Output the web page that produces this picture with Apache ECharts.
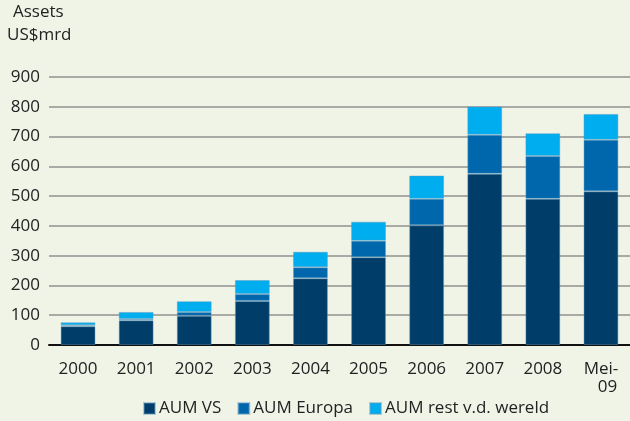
<!DOCTYPE html>
<html><head><meta charset="utf-8">
<script src="https://cdn.jsdelivr.net/npm/echarts@6/dist/echarts.min.js"></script>
<style>html,body{margin:0;padding:0;background:#eff4e7;}#c{width:630px;height:421px;}</style>
</head><body><div id="c"></div>
<script>
const categories = ['2000','2001','2002','2003','2004','2005','2006','2007','2008','Mei-\n   09'];
const aumVS = [63, 83, 98, 148, 224, 295, 402, 575, 491, 516];
const aumEuropa = [3, 4, 13, 23, 37, 55, 89, 131, 144, 173];
const aumRest = [10, 24, 36, 47, 52, 64, 78, 95, 76, 87];
const yTicks = [0, 900, 100];
const seriesNames = ['AUM VS', 'AUM Europa', 'AUM rest v.d. wereld'];
const colors = ['#003d68', '#0067ad', '#00aeef'];
const font = 'Open Sans';
const chart = echarts.init(document.getElementById('c'));
const mk = (name, data, color) => ({
  name, type: 'bar', stack: 'a', data, barWidth: '60%',
  itemStyle: { color, borderColor: 'rgba(90,150,190,0.45)', borderWidth: 1 }
});
chart.setOption({
  backgroundColor: '#eff4e7',
  animation: false,
  textStyle: { fontFamily: font },
  graphic: [
    { type: 'text', left: 13, top: 4, style: { text: 'Assets', font: '17px "Open Sans"', fill: '#222' } },
    { type: 'text', left: 7, top: 27, style: { text: 'US$mrd', font: '17px "Open Sans"', fill: '#222' } }
  ],
  grid: { left: 49, right: 0, top: 77, bottom: 76 },
  xAxis: {
    type: 'category', data: categories,
    axisLine: { lineStyle: { color: '#111', width: 2 } },
    axisTick: { show: false },
    axisLabel: { color: '#222', fontSize: 17, fontFamily: font, margin: 15, lineHeight: 18, interval: 0 }
  },
  yAxis: {
    type: 'value', min: yTicks[0], max: yTicks[1], interval: yTicks[2],
    axisLine: { show: false }, axisTick: { show: false },
    axisLabel: { color: '#222', fontSize: 17, fontFamily: font, margin: 9 },
    splitLine: { lineStyle: { color: '#a9aaa5', width: 2 } }
  },
  legend: {
    bottom: -1, left: 138, itemWidth: 11, itemHeight: 11, itemGap: 16,
    icon: 'rect',
    textStyle: { color: '#222', fontSize: 17, fontFamily: font, padding: [0,0,0,-1] },
    data: seriesNames
  },
  series: [
    mk(seriesNames[0], aumVS, colors[0]),
    mk(seriesNames[1], aumEuropa, colors[1]),
    mk(seriesNames[2], aumRest, colors[2])
  ]
});
</script></body></html>
